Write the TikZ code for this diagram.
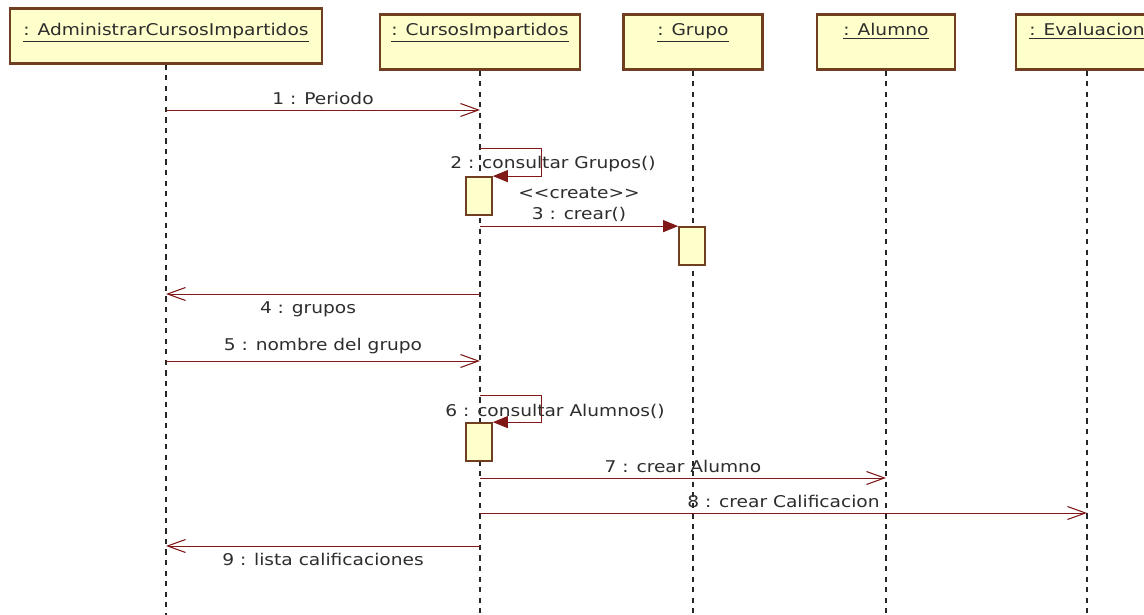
\documentclass[tikz,border=0pt]{standalone}
\usepackage{fontspec}
\setmainfont[FakeStretch=1.15]{DejaVu Sans}
\usetikzlibrary{arrows.meta}
\definecolor{objfill}{RGB}{255,255,204}
\definecolor{objdraw}{RGB}{112,62,32}
\definecolor{msgred}{RGB}{128,24,24}
\definecolor{txtgray}{RGB}{45,45,45}

\begin{document}
\begin{tikzpicture}[x=0.02cm, y=-0.02cm,
  obj/.style={draw=objdraw, fill=objfill, line width=1.2pt, minimum height=1.1cm, inner ysep=3pt, text height=9pt, text depth=16pt, font=\fontsize{9.2}{11}\selectfont, text=txtgray},
  life/.style={line width=1.1pt, dash pattern=on 3pt off 3pt, black!85},
  act/.style={draw=objdraw, fill=objfill, line width=1pt, minimum width=0.52cm, minimum height=0.76cm, inner sep=0pt},
  msg/.style={draw=msgred, line width=0.55pt, -{Straight Barb[length=0.36cm, width=0.26cm, line width=0.6pt]}},
  call/.style={draw=msgred, line width=0.55pt, -{Triangle[length=0.3cm, width=0.24cm]}},
  lbl/.style={font=\fontsize{9.2}{12}\selectfont, text=txtgray, inner sep=1pt, align=center}
]
\fill[white] (0,0) rectangle (1144,615);
\useasboundingbox (0,0) rectangle (1144,615);
\coordinate (bot) at (0,615);

% Objects
\node[obj, minimum width=6.24cm, text height=12pt, text depth=13pt] (adm) at (166,36) {\underline{: AdministrarCursosImpartidos}};
\node[obj, minimum width=4cm] (cur) at (480,42) {\underline{: CursosImpartidos}};
\node[obj, minimum width=2.78cm] (gru) at (693,42) {\underline{: Grupo}};
\node[obj, minimum width=2.76cm] (alu) at (886,42) {\underline{: Alumno}};
\node[obj, minimum width=2.84cm] (eva) at (1087,42) {\underline{: Evaluacion}};

% Lifelines
\foreach \o in {adm,cur,gru,alu,eva}
  \draw[life] (\o.south) -- (\o.south |- bot);

% Activations
\node[act] (act2) at (479,196) {};
\node[act] (act3) at (692,246) {};
\node[act] (act6) at (479,442) {};

% Messages
\draw[msg] (adm |- 0,110) -- (cur |- 0,110) node[lbl, midway, above=2pt] {1 : Periodo};

\draw[call] (cur |- 0,148) -- (541,148) |- (act2.north east);
\node[lbl] at (553,164) {2 : consultar Grupos()};

\draw[call] (cur |- act3.north) -- (act3.north west) node[lbl, midway, above=1pt] {<{}<create>{}>\\3 : crear()};

\draw[msg] (cur |- 0,294) -- (adm |- 0,294) node[lbl, midway, below=3pt, xshift=-0.3cm] {4 : grupos};
\draw[msg] (adm |- 0,361) -- (cur |- 0,361) node[lbl, midway, above=3pt] {5 : nombre del grupo};

\draw[call] (cur |- 0,395) -- (541,395) |- (act6.north east);
\node[lbl] at (555,411) {6 : consultar Alumnos()};

\draw[msg] (cur |- 0,478) -- (alu |- 0,478) node[lbl, midway, above=2pt] {7 : crear Alumno};
\draw[msg] (cur |- 0,513) -- (eva |- 0,513) node[lbl, midway, above=2pt] {8 : crear Calificacion};
\draw[msg] (cur |- 0,546) -- (adm |- 0,546) node[lbl, midway, below=3pt] {9 : lista calificaciones};
\end{tikzpicture}
\end{document}
